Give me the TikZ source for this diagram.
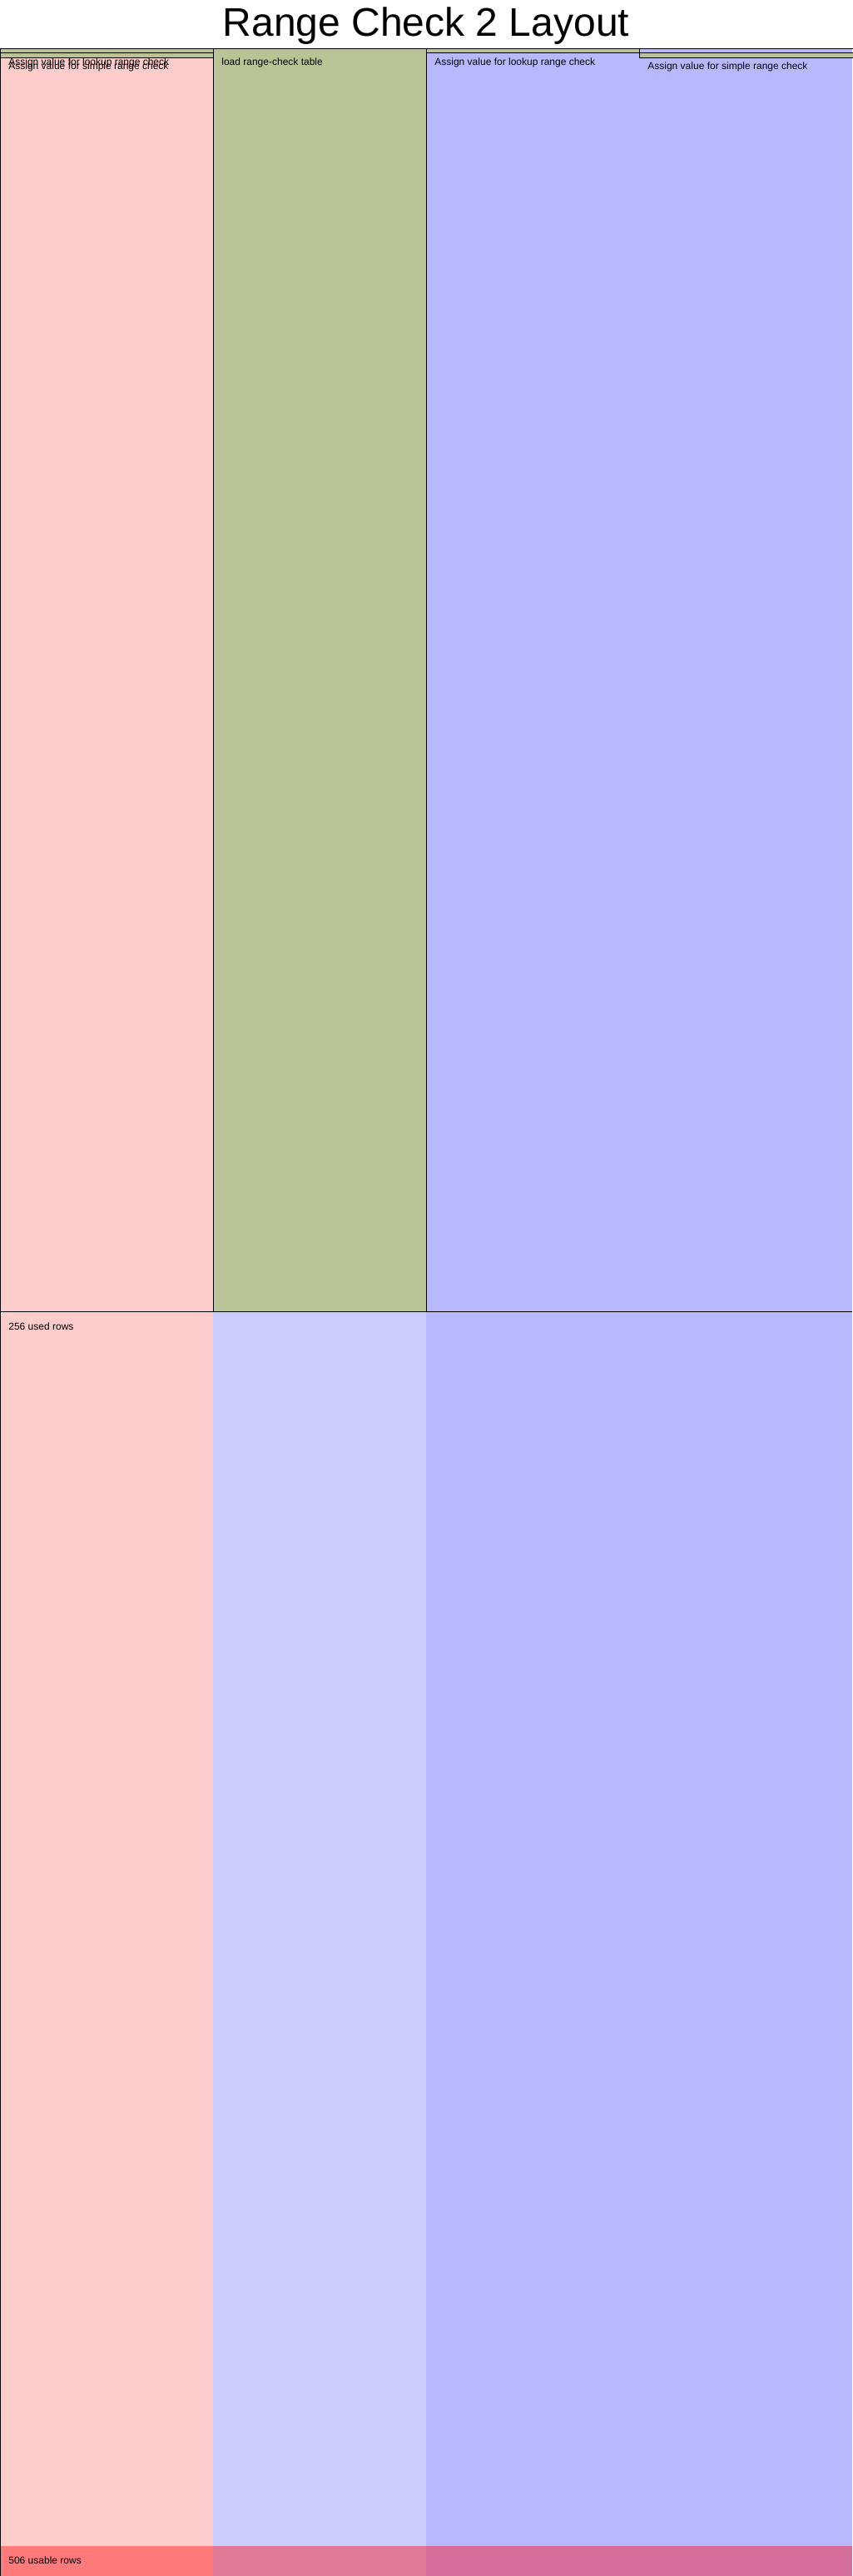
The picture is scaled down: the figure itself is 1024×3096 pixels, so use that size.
\documentclass[tikz,border=0pt]{standalone}
\usepackage{fontspec}
\setmainfont{Liberation Sans}
\definecolor{advicecol}{RGB}{255,204,204}
\definecolor{tablecol}{RGB}{204,204,255}
\definecolor{fixedcol}{RGB}{184,184,255}
\definecolor{regioncol}{RGB}{185,195,150}

\begin{document}
\begin{tikzpicture}[x=0.5pt,y=-0.5pt,
    region/.style={fill=regioncol,draw=black,line width=0.5pt},
    lbl/.style={anchor=base west,inner sep=0pt,font=\fontsize{6pt}{7pt}\selectfont}]
  \useasboundingbox (0,0) rectangle (1024,3096);
  \fill [white] (0,0) rectangle (1024,3096);
  \node [anchor=base,inner sep=0pt,font=\fontsize{24pt}{28pt}\selectfont] (title) at (512,43) {Range Check 2 Layout};
  % columns
  \fill [advicecol] (0,58) rectangle (256,3096);
  \fill [tablecol] (256,58) rectangle (512,3096);
  \fill [fixedcol] (512,58) rectangle (1024,3096);
  % regions
  \draw [region] (0,58) rectangle (256,63.93);
  \draw [region] (512,58) rectangle (768,63.93);
  \draw [region] (0,63.93) rectangle (256,69.87);
  \draw [region] (768,63.93) rectangle (1025,69.87);
  \draw [region] (256,58) rectangle (512,1576.8);
  \node [lbl] (lookupA) at (10,78) {Assign value for lookup range check};
  \node [lbl] (lookupB) at (522,78) {Assign value for lookup range check};
  \node [lbl] (simpleA) at (10,83.5) {Assign value for simple range check};
  \node [lbl] (simpleB) at (778,83.5) {Assign value for simple range check};
  \node [lbl] (table) at (266,78) {load range-check table};
  % unusable rows
  \fill [red,fill opacity=0.4] (0,3060.4) rectangle (1024,3096);
  \draw [line width=0.5pt] (1025,58) -- (0,58) -- (0,3096);
  \draw [line width=0.5pt] (0,1576.8) -- (1024,1576.8);
  \node [lbl] (used) at (10,1598) {256 used rows};
  \node [lbl] (usable) at (10,3081) {506 usable rows};
\end{tikzpicture}
\end{document}
